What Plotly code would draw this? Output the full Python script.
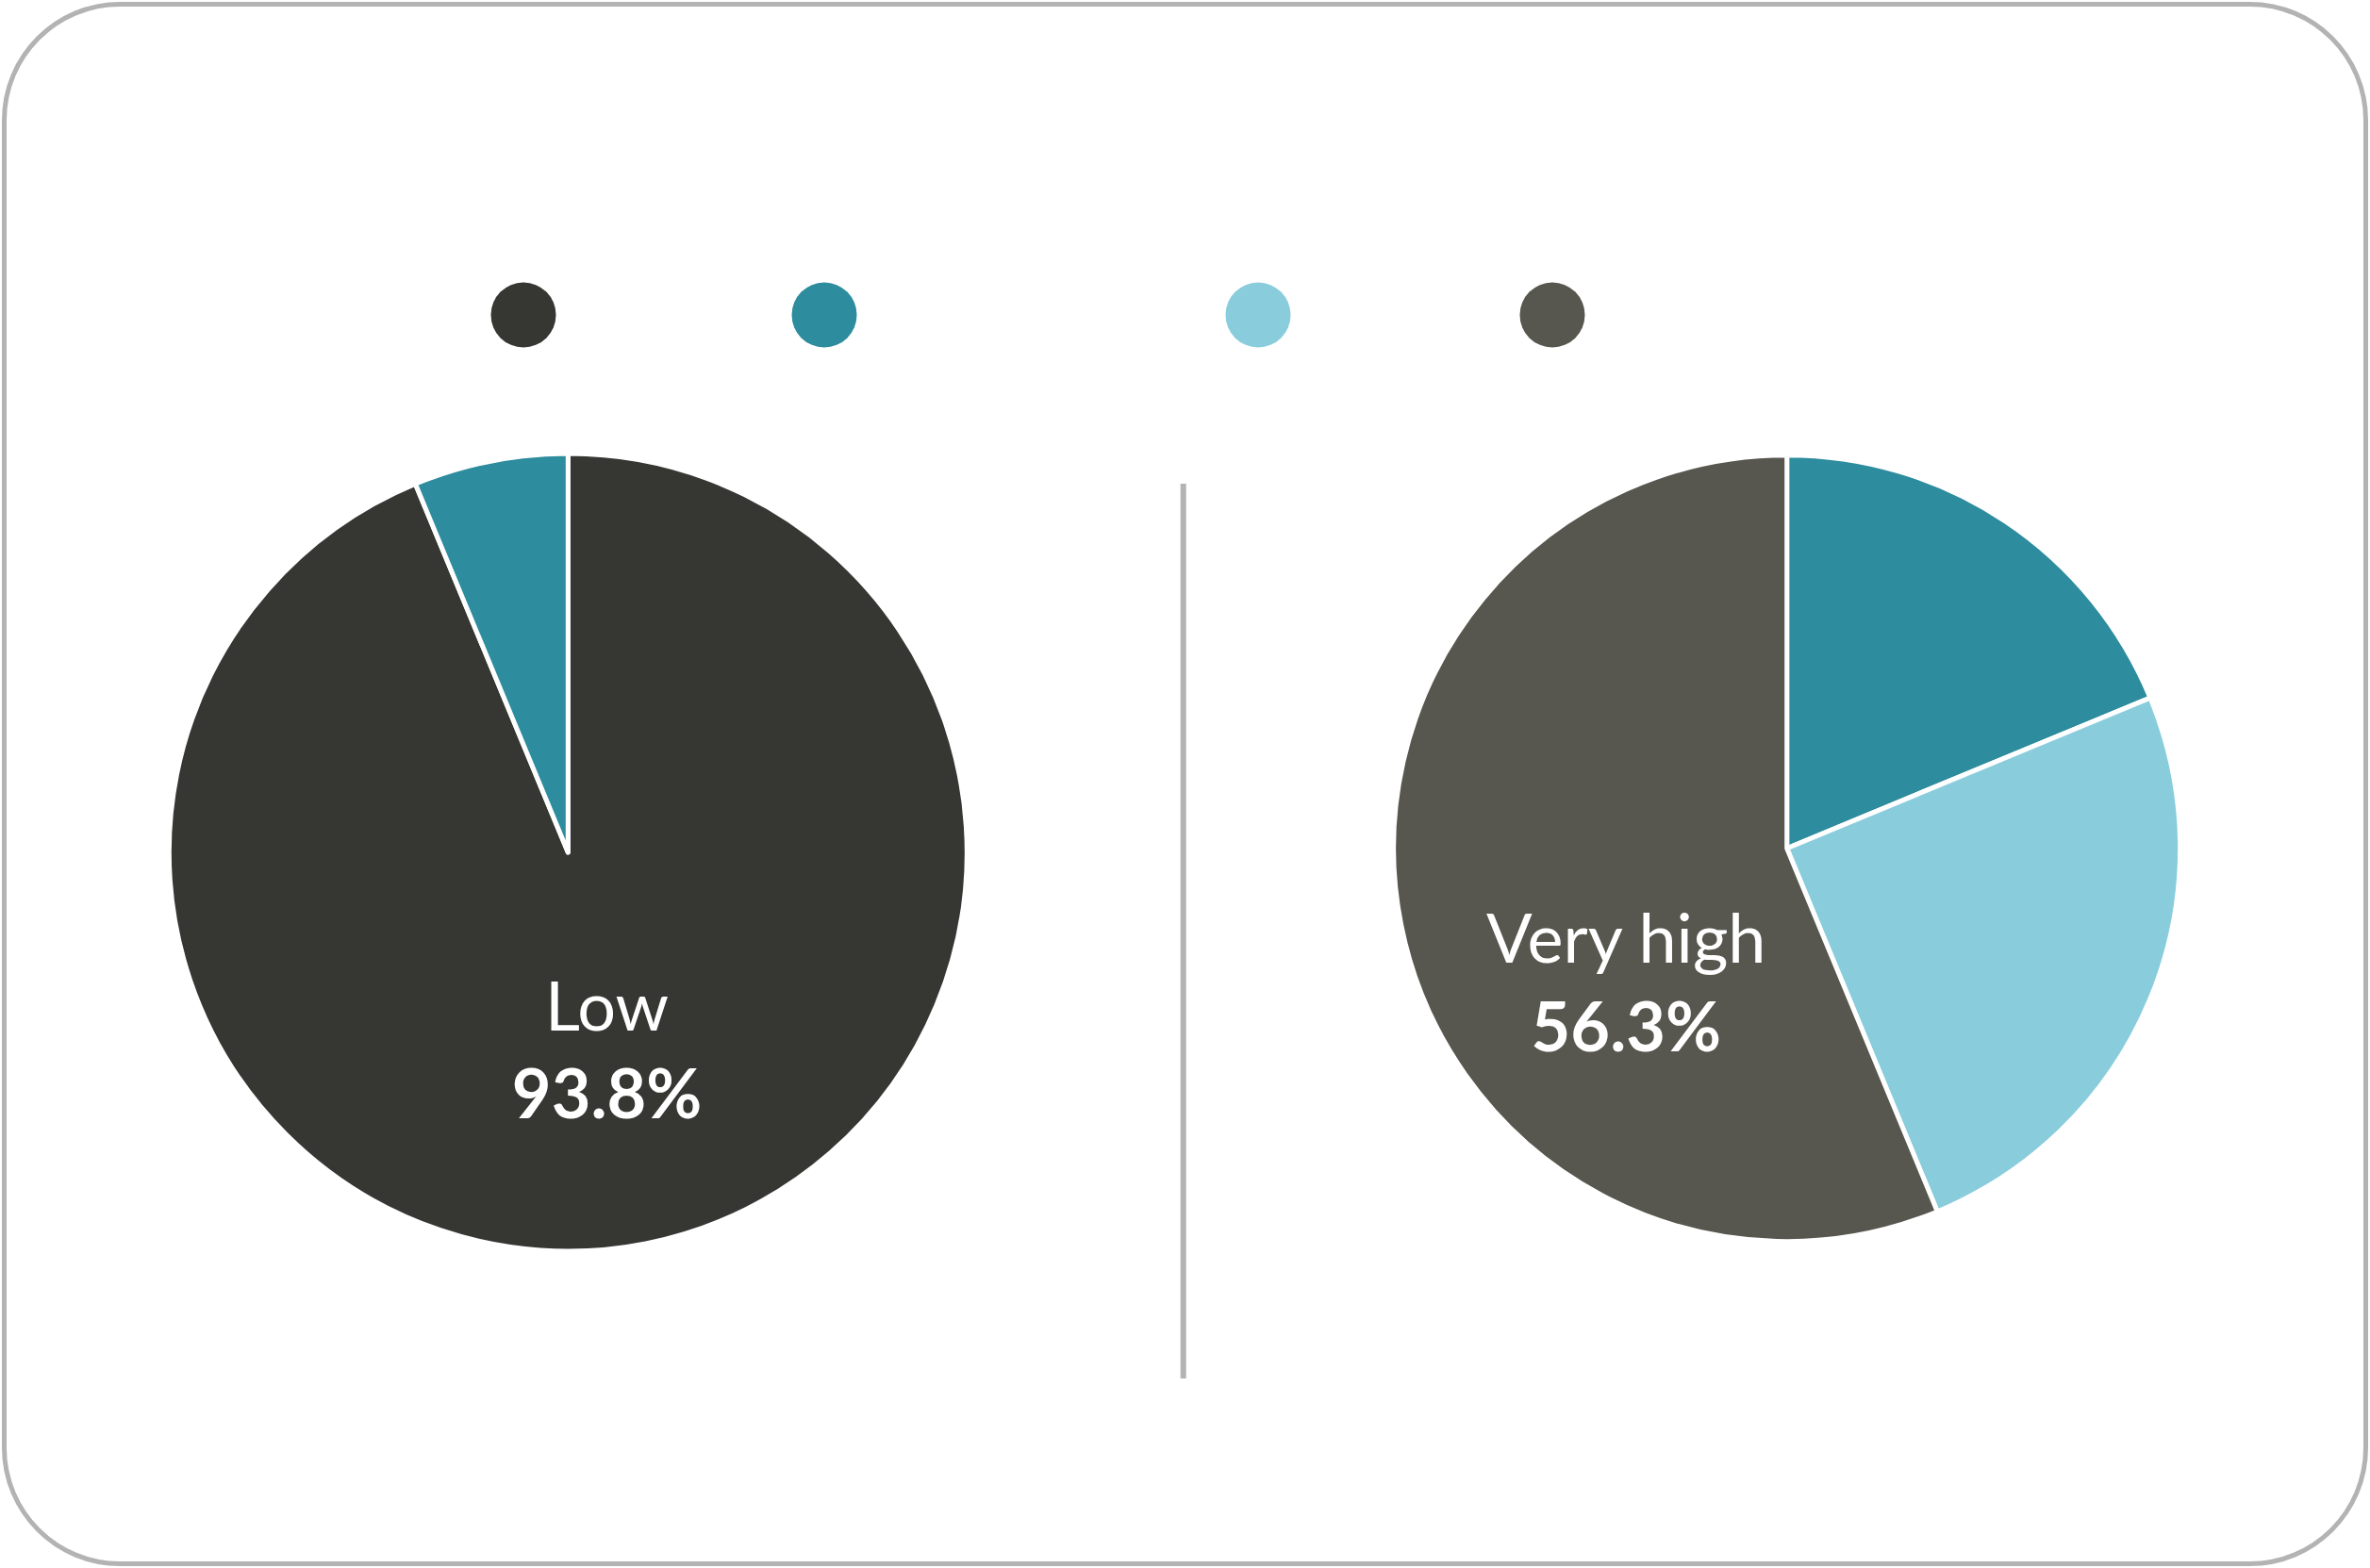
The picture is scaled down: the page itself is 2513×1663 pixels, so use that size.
import plotly.graph_objects as go

# categories and colours
categories = ["Low", "Medium", "High", "Very high"]
colors = {"Low": "#363732", "Medium": "#2d8c9e", "High": "#89cddd", "Very high": "#57574f"}

# left pie (respondent counts)
left_labels = ["Low", "Medium"]
left_values = [15, 1]

# right pie (respondent counts)
right_labels = ["Medium", "High", "Very high"]
right_values = [3, 4, 9]

W, H = 2513, 1663


def px(x):
    return x / W


def py(y):
    return 1 - y / H


def pie_text(labels, values, lead=""):
    # only the biggest slice carries a label
    top = max(values)
    return [lead + "%{label}<br><b>%{percent:.1%}</b>" if v == top else "" for v in values]


def make_pie(labels, values, cx, cy, r, lead=""):
    return go.Pie(
        labels=labels,
        values=values,
        sort=False,
        direction="clockwise",
        rotation=0,
        marker=dict(colors=[colors[l] for l in labels], line=dict(color="white", width=5)),
        texttemplate=pie_text(labels, values, lead),
        textposition="inside",
        insidetextorientation="horizontal",
        insidetextfont=dict(family="Lato", size=72, color="white"),
        hoverinfo="label+percent",
        showlegend=False,
        domain=dict(x=[px(cx - r), px(cx + r)], y=[py(cy + r), py(cy - r)]),
    )


fig = go.Figure()
fig.add_trace(make_pie(left_labels, left_values, 602.3, 904, 423))
# blank first lines nudge the label lower in the big slice
fig.add_trace(make_pie(right_labels, right_values, 1894.7, 899.7, 417, lead=" <br> <br> <br>"))

# legend dots (labels are not shown in the card)
legend_x = [555, 874, 1334, 1646]
fig.add_trace(go.Scatter(
    x=legend_x, y=[334] * len(legend_x), mode="markers",
    marker=dict(size=69, color=[colors[c] for c in categories], line=dict(width=0)),
    text=categories, hoverinfo="text", showlegend=False,
))

shapes = []

# card border with rounded corners
a, b, c, d, rr = 4.5, 4.5, W - 4.5, H - 4.5, 123
k = rr * 0.5523
pts = [
    f"M {px(a + rr)},{py(b)}",
    f"L {px(c - rr)},{py(b)}",
    f"C {px(c - rr + k)},{py(b)} {px(c)},{py(b + rr - k)} {px(c)},{py(b + rr)}",
    f"L {px(c)},{py(d - rr)}",
    f"C {px(c)},{py(d - rr + k)} {px(c - rr + k)},{py(d)} {px(c - rr)},{py(d)}",
    f"L {px(a + rr)},{py(d)}",
    f"C {px(a + rr - k)},{py(d)} {px(a)},{py(d - rr + k)} {px(a)},{py(d - rr)}",
    f"L {px(a)},{py(b + rr)}",
    f"C {px(a)},{py(b + rr - k)} {px(a + rr - k)},{py(b)} {px(a + rr)},{py(b)}",
    "Z",
]
shapes.append(dict(type="path", xref="paper", yref="paper", path=" ".join(pts),
                   line=dict(color="#b3b3b3", width=5), layer="below"))

# divider between the two pies
shapes.append(dict(type="line", xref="paper", yref="paper",
                   x0=px(1254.7), x1=px(1254.7), y0=py(513), y1=py(1462),
                   line=dict(color="#b3b3b3", width=6)))

fig.update_layout(
    width=W, height=H,
    margin=dict(l=0, r=0, t=0, b=0),
    paper_bgcolor="white",
    plot_bgcolor="rgba(0,0,0,0)",
    font=dict(family="Lato"),
    xaxis=dict(range=[0, W], visible=False, fixedrange=True),
    yaxis=dict(range=[H, 0], visible=False, fixedrange=True),
    shapes=shapes,
)

fig.write_html("out.html", config={"displayModeBar": False},
               post_script="document.body.style.margin='0';")
